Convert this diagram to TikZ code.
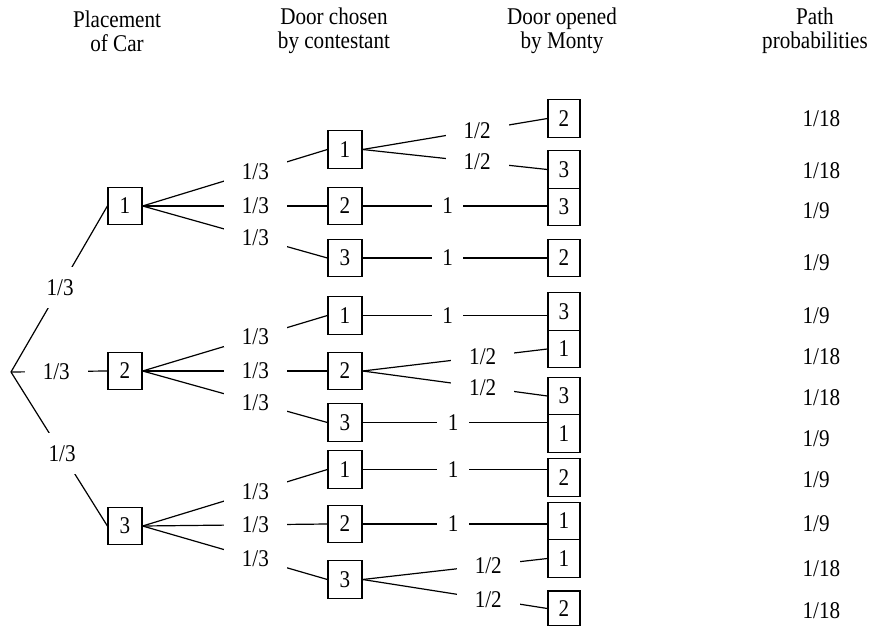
\documentclass[tikz,border=0pt]{standalone}
\usepackage{fontspec}
\setmainfont{Liberation Serif}[FakeStretch=0.88]
\begin{document}
\begin{tikzpicture}[x=1pt, y=-1pt, line width=1.2pt,
    font=\fontsize{24}{24}\selectfont,
    door/.style={draw, minimum width=34pt, minimum height=37.5pt, inner sep=0pt},
    prob/.style={fill=white, inner xsep=18pt, inner ysep=2pt},
    rootprob/.style={fill=white, inner xsep=18pt, inner ysep=12.5pt},
    sure/.style={fill=white, inner xsep=10.5pt, inner ysep=2pt},
    head/.style={align=center, inner sep=0pt}]
  \useasboundingbox (0,0) rectangle (873,626);

  % column heads
  \node[head] (hcar) at (117,31) {Placement\\of Car};
  \node[head] (hpick) at (334,31) {Door chosen\\by contestant};
  \node[head] (hopen) at (562,31) {Door opened\\by Monty};
  \node[head] (hpath) at (815,31) {Path\\probabilities};

  % placement of car
  \coordinate (root) at (11,372);
  \node[door] (c1) at (125,206) {1};
  \node[door] (c2) at (125,371) {2};
  \node[door] (c3) at (125,526) {3};

  % door chosen
  \node[door] (d11) at (345,149.5) {1};
  \node[door] (d12) at (345,206) {2};
  \node[door] (d13) at (345,258) {3};
  \node[door] (d21) at (345,315.5) {1};
  \node[door] (d22) at (345,371) {2};
  \node[door] (d23) at (345,422.5) {3};
  \node[door] (d31) at (345,469.5) {1};
  \node[door] (d32) at (345,524) {2};
  \node[door] (d33) at (345,579.5) {3};

  % door opened
  \node[door, minimum width=32pt] (e1) at (564,118.5) {2};
  \node[door, minimum width=32pt] (e2) at (564,169.5) {3};
  \node[door, minimum width=32pt] (e3) at (564,207) {3};
  \node[door, minimum width=32pt] (e4) at (564,258) {2};
  \node[door, minimum width=32pt] (e5) at (564,311.5) {3};
  \node[door, minimum width=32pt] (e6) at (564,349) {1};
  \node[door, minimum width=32pt] (e7) at (564,396) {3};
  \node[door, minimum width=32pt] (e8) at (564,433.5) {1};
  \node[door, minimum width=32pt] (e9) at (564,477.5) {2};
  \node[door, minimum width=32pt] (e10) at (564,521) {1};
  \node[door, minimum width=32pt] (e11) at (564,558.5) {1};
  \node[door, minimum width=32pt, minimum height=35pt] (e12) at (564,608.5) {2};

  % first split
  \draw (root) -- node[rootprob, pos=0.51] {1/3} (c1.west);
  \draw (root) -- node[rootprob, pos=0.47] {1/3} (c2.west);
  \draw (root) -- node[rootprob, pos=0.53] {1/3} (c3.west);

  % contestant's pick
  \draw (c1.east) -- node[prob, pos=0.61] {1/3} (d11.west);
  \draw (c1.east) -- node[prob, pos=0.61] {1/3} (d12.west);
  \draw (c1.east) -- node[prob, pos=0.61] {1/3} (d13.west);
  \draw (c2.east) -- node[prob, pos=0.61] {1/3} (d21.west);
  \draw (c2.east) -- node[prob, pos=0.61] {1/3} (d22.west);
  \draw (c2.east) -- node[prob, pos=0.61] {1/3} (d23.west);
  \draw (c3.east) -- node[prob, pos=0.61] {1/3} (d31.west);
  \draw (c3.east) -- node[prob, pos=0.61] {1/3} (d32.west);
  \draw (c3.east) -- node[prob, pos=0.61] {1/3} (d33.west);

  % Monty's door
  \draw (d11.east) -- node[prob, pos=0.62] {1/2} (e1.west);
  \draw (d11.east) -- node[prob, pos=0.62] {1/2} (e2.west);
  \draw (d12.east) -- node[sure, pos=0.46] {1} (d12.east -| e3.west);
  \draw (d13.east) -- node[sure, pos=0.46] {1} (d13.east -| e4.west);
  \draw (d21.east) -- node[sure, pos=0.46] {1} (d21.east -| e5.west);
  \draw (d22.east) -- node[prob, pos=0.65] {1/2} (e6.west);
  \draw (d22.east) -- node[prob, pos=0.65] {1/2} (e7.west);
  \draw (d23.east) -- node[sure, pos=0.49] {1} (d23.east -| e8.west);
  \draw (d31.east) -- node[sure, pos=0.49] {1} (d31.east -| e9.west);
  \draw (d32.east) -- node[sure, pos=0.49] {1} (d32.east -| e10.west);
  \draw (d33.east) -- node[prob, pos=0.68] {1/2} (e11.west);
  \draw (d33.east) -- node[prob, pos=0.68] {1/2} (e12.west);

  % path probabilities
  \foreach \y/\p [count=\i] in {119/1\slash18, 171/1\slash18, 211/1\slash9, 263/1\slash9,
      316/1\slash9, 357/1\slash18, 398/1\slash18, 439/1\slash9, 480/1\slash9,
      524/1\slash9, 569/1\slash18, 611/1\slash18}
    \node[anchor=west, inner sep=0pt] (p\i) at (802,\y) {\p};
\end{tikzpicture}
\end{document}
